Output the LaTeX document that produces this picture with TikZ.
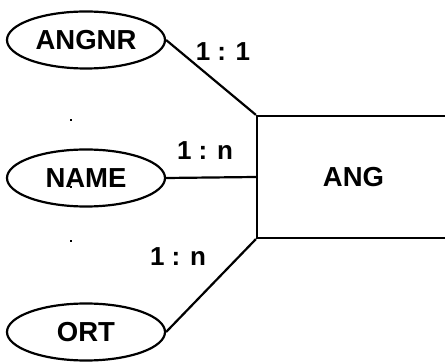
\documentclass[tikz,border=0pt]{standalone}
\usepackage{fontspec}
\setmainfont{Liberation Sans}
\usetikzlibrary{shapes.geometric}
\begin{document}
\begin{tikzpicture}[x=1pt,y=1pt,
  line width=2.2pt,
  every node/.style={font=\fontsize{27.5}{32}\selectfont\bfseries},
  attr/.style={draw, ellipse, inner sep=0pt, minimum width=158pt, minimum height=57pt},
  entity/.style={draw, rectangle, inner sep=0pt, minimum width=193pt, minimum height=122pt},
  card/.style={inner sep=0pt, font=\fontsize{26}{30}\selectfont\bfseries},
  dotmark/.style={fill=black, draw=none, inner sep=0pt, minimum size=2pt, rectangle}
]
\useasboundingbox (0,0) rectangle (445,364);
\node[attr] (angnr) at (86,324) {ANGNR};
\node[attr] (name) at (86,186) {NAME};
\node[attr] (ort) at (86,32) {ORT};
\node[entity] (ang) at (353.5,187) {ANG};
\draw (angnr.east) -- (ang.north west);
\draw (name.east) -- (ang.west);
\draw (ort.east) -- (ang.south west);
\node[card] (c1) at (223,312) {1 : 1};
\node[card] (c2) at (205,213) {1 : n};
\node[card] (c3) at (178,107) {1 : n};
\node[dotmark] (d1) at (71,244) {};
\node[dotmark] (d2) at (71,177) {};
\node[dotmark] (d3) at (71,123) {};
\end{tikzpicture}
\end{document}
